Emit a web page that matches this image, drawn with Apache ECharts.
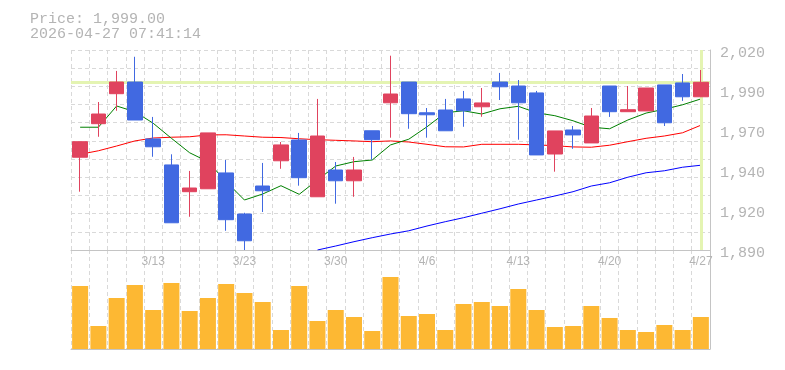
<!DOCTYPE html>
<html>
<head>
<meta charset="utf-8">
<script src="https://cdn.jsdelivr.net/npm/echarts@6/dist/echarts.min.js"></script>
<style>
html,body{margin:0;padding:0;background:#fff;}
#c{width:785px;height:370px;}
</style>
</head>
<body>
<div id="c"></div>
<script>
const titleLines = ['Price: 1,999.00', '2026-04-27 07:41:14'];
const currentPrice = 1999;
const dates = ['3/9','3/10','3/11','3/12','3/13','3/16','3/17','3/18','3/19','3/23','3/24','3/25','3/26','3/27','3/30','3/31','4/1','4/2','4/3','4/6','4/7','4/8','4/9','4/10','4/13','4/14','4/15','4/16','4/17','4/20','4/21','4/22','4/23','4/24','4/27'];
const xTickLabels = ['3/13','3/23','3/30','4/6','4/13','4/20','4/27'];
const priceTicks = [1890, 2020, 26];
const priceTickLabels = ['1,890','1,920','1,940','1,970','1,990','2,020'];

const opens  = [1950.3,1972.1,1991.6,1999.2,1962.2,1945.3,1927.9,1929.8,1940.1,1913.4,1931.6,1948.0,1961.5,1924.6,1942.0,1935.0,1967.5,1985.7,1999.2,1979.2,1981.0,1988.2,1983.1,1999.2,1996.6,1992.1,1952.4,1968.0,1959.6,1996.6,1979.9,1980.4,1997.3,1998.6,1989.6];
const closes = [1960.4,1978.4,1999.2,1974.5,1957.1,1907.7,1930.3,1966.1,1909.7,1896.0,1928.5,1958.3,1937.0,1964.1,1935.0,1942.0,1961.7,1991.4,1978.6,1977.9,1967.5,1980.5,1985.6,1996.1,1985.7,1951.8,1967.4,1964.8,1977.1,1979.9,1981.2,1995.3,1972.7,1989.6,1999.0];
const lows   = [1927.9,1963.6,1980.5,1974.5,1950.6,1907.7,1911.6,1929.8,1902.5,1890.0,1914.7,1942.8,1931.8,1924.6,1920.1,1924.6,1948.7,1963.0,1968.8,1963.0,1967.5,1970.1,1976.6,1987.5,1961.7,1951.8,1940.9,1955.8,1959.6,1976.5,1979.9,1980.4,1970.6,1986.9,1989.6];
const highs  = [1960.4,1986.2,2006.4,2015.6,1976.5,1952.2,1941.4,1966.1,1948.5,1914.2,1946.6,1960.2,1966.1,1988.2,1947.2,1950.5,1967.5,2016.3,1999.2,1982.3,1988.2,1993.4,1995.3,2005.1,2000.5,1993.4,1967.4,1970.6,1982.3,1996.6,1996.6,1995.3,1997.3,2004.4,2007.0];

const ma5  = [1969.8,1969.8,1983.6,1979.9,1972.4,1962.6,1953.2,1947.4,1934.4,1922.5,1926.4,1931.8,1926.2,1935.5,1944.6,1947.4,1948.5,1958.3,1962.0,1970.1,1979.2,1980.5,1978.4,1981.8,1983.4,1979.2,1977.3,1974.0,1969.8,1968.8,1974.5,1979.0,1981.5,1984.4,1988.2];
const ma25 = [1952.2,1954.5,1957.6,1960.9,1962.8,1963.3,1963.6,1964.8,1964.9,1964.1,1963.3,1963.1,1962.3,1961.7,1961.3,1960.9,1960.4,1960.9,1960.2,1958.7,1957.1,1957.0,1958.7,1958.7,1958.7,1958.3,1957.8,1957.0,1956.8,1958.1,1960.4,1962.6,1964.1,1966.2,1971.1];
const ma75 = ['-','-','-','-','-','-','-','-','-','-','-','-','-',1890.0,1892.6,1895.4,1898.0,1900.4,1902.5,1905.6,1908.4,1911.0,1913.9,1916.8,1919.9,1922.5,1925.1,1927.9,1931.6,1933.7,1937.3,1940.2,1941.5,1943.8,1945.1];
const volumes = [630,230,510,640,390,660,380,510,650,560,470,190,630,280,390,320,180,720,330,350,190,450,470,430,600,390,220,230,430,310,190,170,240,190,320];

const candles = dates.map((d, i) => [opens[i], closes[i], lows[i], highs[i]]);

const GRID_LINE = '#d9d9d9';
const AXIS_LINE = '#c4c4c4';
const TEXT = '#b4b4b4';
const MONO = 'Liberation Mono';

const chart = echarts.init(document.getElementById('c'), null, {renderer: 'canvas'});
chart.setOption({
  animation: false,
  backgroundColor: '#fff',
  title: {
    text: titleLines.join('\n'),
    left: 30, top: 12, padding: 0,
    textStyle: {fontFamily: MONO, fontSize: 15, lineHeight: 15, fontWeight: 'normal', color: TEXT}
  },
  grid: [
    {left: 71, top: 50, width: 639, height: 200},
    {left: 71, top: 250, width: 639, height: 99}
  ],
  xAxis: [
    {
      type: 'category', gridIndex: 0, data: dates, boundaryGap: true,
      axisLine: {show: true, lineStyle: {color: AXIS_LINE, width: 1}},
      axisTick: {show: false},
      axisLabel: {
        interval: (i, v) => xTickLabels.includes(v),
        margin: 6, color: TEXT, fontFamily: 'Liberation Sans', fontSize: 12
      },
      splitLine: {show: true, interval: 0, lineStyle: {color: GRID_LINE, type: [4, 3]}}
    },
    {
      type: 'category', gridIndex: 1, data: dates, boundaryGap: true,
      axisLine: {show: true, lineStyle: {color: AXIS_LINE, width: 1}},
      axisTick: {show: false},
      axisLabel: {show: false},
      splitLine: {show: true, interval: 0, lineStyle: {color: GRID_LINE, type: [4, 3]}}
    }
  ],
  yAxis: [
    {
      type: 'value', gridIndex: 0, position: 'right',
      min: priceTicks[0], max: priceTicks[1], interval: priceTicks[2],
      axisLine: {show: true, lineStyle: {color: AXIS_LINE, width: 1}},
      axisTick: {show: false},
      splitLine: {show: false},
      axisLabel: {
        margin: 10, color: TEXT, fontFamily: MONO, fontSize: 15,
        verticalAlign: 'top', lineHeight: 6,
        formatter: (v, idx) => priceTickLabels[idx]
      }
    },
    {
      type: 'value', gridIndex: 0, position: 'left',
      min: 0, max: 11, interval: 1,
      axisLine: {show: false}, axisTick: {show: false}, axisLabel: {show: false},
      splitLine: {show: true, lineStyle: {color: GRID_LINE, type: [4, 3]}}
    },
    {
      type: 'value', gridIndex: 1, position: 'right',
      min: 0, max: 990,
      axisLine: {show: true, lineStyle: {color: AXIS_LINE, width: 1}},
      axisTick: {show: false}, axisLabel: {show: false},
      splitLine: {show: false}
    }
  ],
  series: [
    {
      type: 'line', xAxisIndex: 0, yAxisIndex: 0, data: [], z: 1, silent: true,
      markLine: {
        silent: true, symbol: ['none', 'none'], label: {show: false},
        lineStyle: {color: '#e4f4b2', width: 3, type: 'solid'},
        data: [{yAxis: currentPrice}, {xAxis: dates[dates.length - 1]}]
      }
    },
    {
      name: 'MA75', type: 'line', xAxisIndex: 0, yAxisIndex: 0, data: ma75,
      showSymbol: false, symbol: 'none', z: 2,
      lineStyle: {color: '#0000ff', width: 1}
    },
    {
      name: 'MA25', type: 'line', xAxisIndex: 0, yAxisIndex: 0, data: ma25,
      showSymbol: false, symbol: 'none', z: 2,
      lineStyle: {color: '#ff0000', width: 1}
    },
    {
      name: 'MA5', type: 'line', xAxisIndex: 0, yAxisIndex: 0, data: ma5,
      showSymbol: false, symbol: 'none', z: 2,
      lineStyle: {color: '#008000', width: 1}
    },
    {
      name: 'Price', type: 'candlestick', xAxisIndex: 0, yAxisIndex: 0, data: candles,
      barWidth: 15, z: 5,
      itemStyle: {
        color: '#e0435e', color0: '#4169e1',
        borderColor: '#e0435e', borderColor0: '#4169e1', borderWidth: 1
      }
    },
    {
      name: 'Volume', type: 'bar', xAxisIndex: 1, yAxisIndex: 2, data: volumes,
      barWidth: 16, z: 3,
      itemStyle: {color: '#fdb833'}
    }
  ]
});
</script>
</body>
</html>
